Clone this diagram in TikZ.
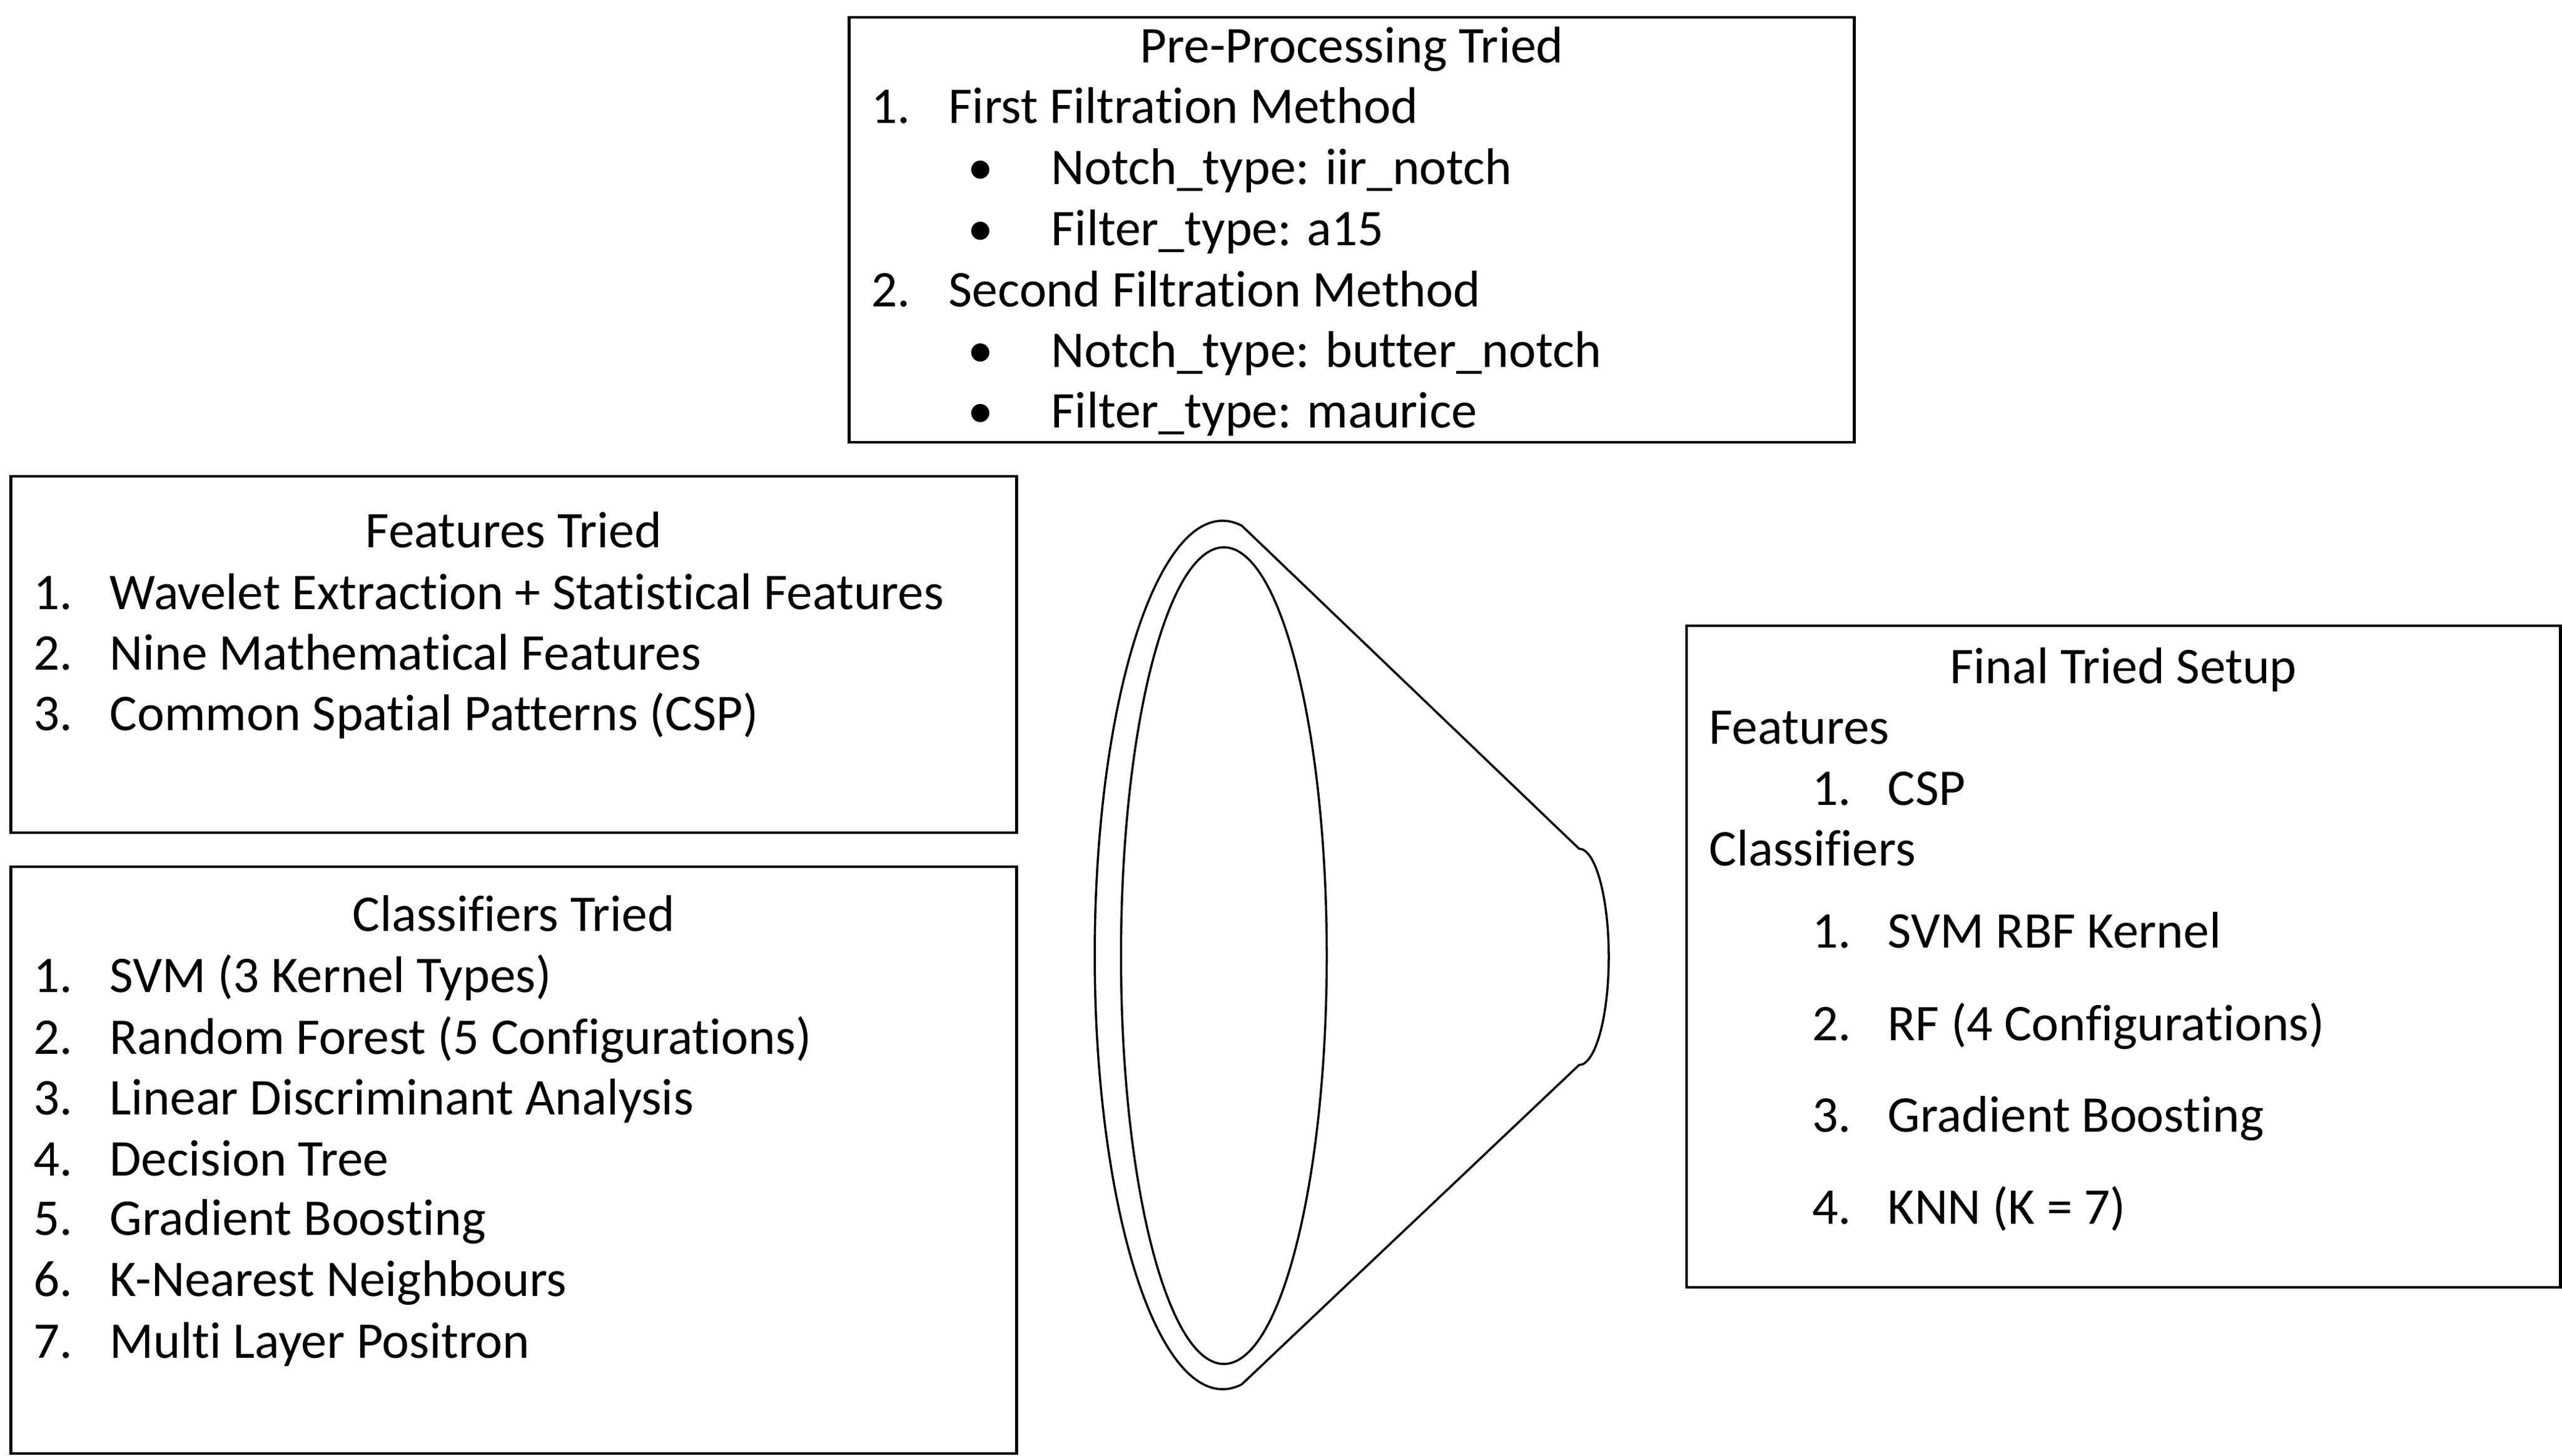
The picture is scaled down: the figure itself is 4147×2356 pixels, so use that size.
\documentclass[tikz,border=0pt]{standalone}
\usepackage{fontspec}
\setmainfont[Ligatures=NoCommon]{Carlito}
\begin{document}
\begin{tikzpicture}[x=0.01cm,y=0.01cm,
  box/.style={draw, line width=1.2pt, rectangle, inner sep=0pt},
  txt/.style={anchor=base west, inner sep=0pt, font=\fontsize{23.7}{28}\selectfont},
  ttl/.style={anchor=base, inner sep=0pt, font=\fontsize{23.7}{28}\selectfont},
  bul/.style={anchor=base, inner sep=0pt, font=\fontsize{23.7}{28}\selectfont},
  funnel/.style={line width=1pt, line join=round}]
\useasboundingbox (0,0) rectangle (4147,2356);

% boxes
\node (pre) [box, minimum width=16.26cm, minimum height=6.88cm] at (2188,1984) {};
\node (feat) [box, minimum width=16.27cm, minimum height=5.77cm] at (831.5,1296.5) {};
\node (clf) [box, minimum width=16.27cm, minimum height=9.50cm] at (831.5,478) {};
\node (fin) [box, minimum width=14.14cm, minimum height=10.71cm] at (3437,807.5) {};

% pre-processing
\node (preT) [ttl] at (2188,2254) {Pre-Processing Tried};
\node (preN1) [txt] at (1410,2156) {1.};
\node (preL1) [txt] at (1535,2156) {First Filtration Method};
\node (preB1) [bul] at (1587,2057) {•};
\node (preL2) [txt] at (1701,2057) {Notch\_type: iir\_notch};
\node (preB2) [bul] at (1587,1958.5) {•};
\node (preL3) [txt] at (1701,1958.5) {Filter\_type: a15};
\node (preN2) [txt] at (1410,1859) {2.};
\node (preL4) [txt] at (1535,1859) {Second Filtration Method};
\node (preB3) [bul] at (1587,1761) {•};
\node (preL5) [txt] at (1701,1761) {Notch\_type: butter\_notch};
\node (preB4) [bul] at (1587,1663) {•};
\node (preL6) [txt] at (1701,1663) {Filter\_type: maurice};

% features tried
\node (featT) [ttl] at (831.5,1469) {Features Tried};
\node (featN1) [txt] at (54,1369) {1.};
\node (featL1) [txt] at (177,1369) {Wavelet Extraction + Statistical Features};
\node (featN2) [txt] at (54,1271) {2.};
\node (featL2) [txt] at (177,1271) {Nine Mathematical Features};
\node (featN3) [txt] at (54,1173) {3.};
\node (featL3) [txt] at (177,1173) {Common Spatial Patterns (CSP)};

% classifiers tried
\node (clfT) [ttl] at (831.5,848) {Classifiers Tried};
\node (clfN1) [txt] at (54,750) {1.};
\node (clfL1) [txt] at (177,750) {SVM (3 Kernel Types)};
\node (clfN2) [txt] at (54,650) {2.};
\node (clfL2) [txt] at (177,650) {Random Forest (5 Configurations)};
\node (clfN3) [txt] at (54,552) {3.};
\node (clfL3) [txt] at (177,552) {Linear Discriminant Analysis};
\node (clfN4) [txt] at (54,453) {4.};
\node (clfL4) [txt] at (177,453) {Decision Tree};
\node (clfN5) [txt] at (54,357) {5.};
\node (clfL5) [txt] at (177,357) {Gradient Boosting};
\node (clfN6) [txt] at (54,258) {6.};
\node (clfL6) [txt] at (177,258) {K-Nearest Neighbours};
\node (clfN7) [txt] at (54,158) {7.};
\node (clfL7) [txt] at (177,158) {Multi Layer Positron};

% final tried setup
\node (finT) [ttl] at (3437,1249) {Final Tried Setup};
\node (finF) [txt] at (2766,1151.5) {Features};
\node (finFN1) [txt] at (2933,1052) {1.};
\node (finFL1) [txt] at (3055,1052) {CSP};
\node (finC) [txt] at (2766,954) {Classifiers};
\node (finN1) [txt] at (2933,821) {1.};
\node (finL1) [txt] at (3055,821) {SVM RBF Kernel};
\node (finN2) [txt] at (2933,672) {2.};
\node (finL2) [txt] at (3055,672) {RF (4 Configurations)};
\node (finN3) [txt] at (2933,524) {3.};
\node (finL3) [txt] at (3055,524) {Gradient Boosting};
\node (finN4) [txt] at (2933,375) {4.};
\node (finL4) [txt] at (3055,375) {KNN (K = 7)};

% funnel
\draw[funnel] (1979,810) ++(81.4:207 and 703) arc[start angle=81.4, end angle=278.6, x radius=207, y radius=703]
  -- (2556,632) arc[start angle=-90, end angle=90, x radius=48, y radius=175] -- cycle;
\draw[funnel] (1981,809) ellipse[x radius=166.5, y radius=661];
\end{tikzpicture}
\end{document}
